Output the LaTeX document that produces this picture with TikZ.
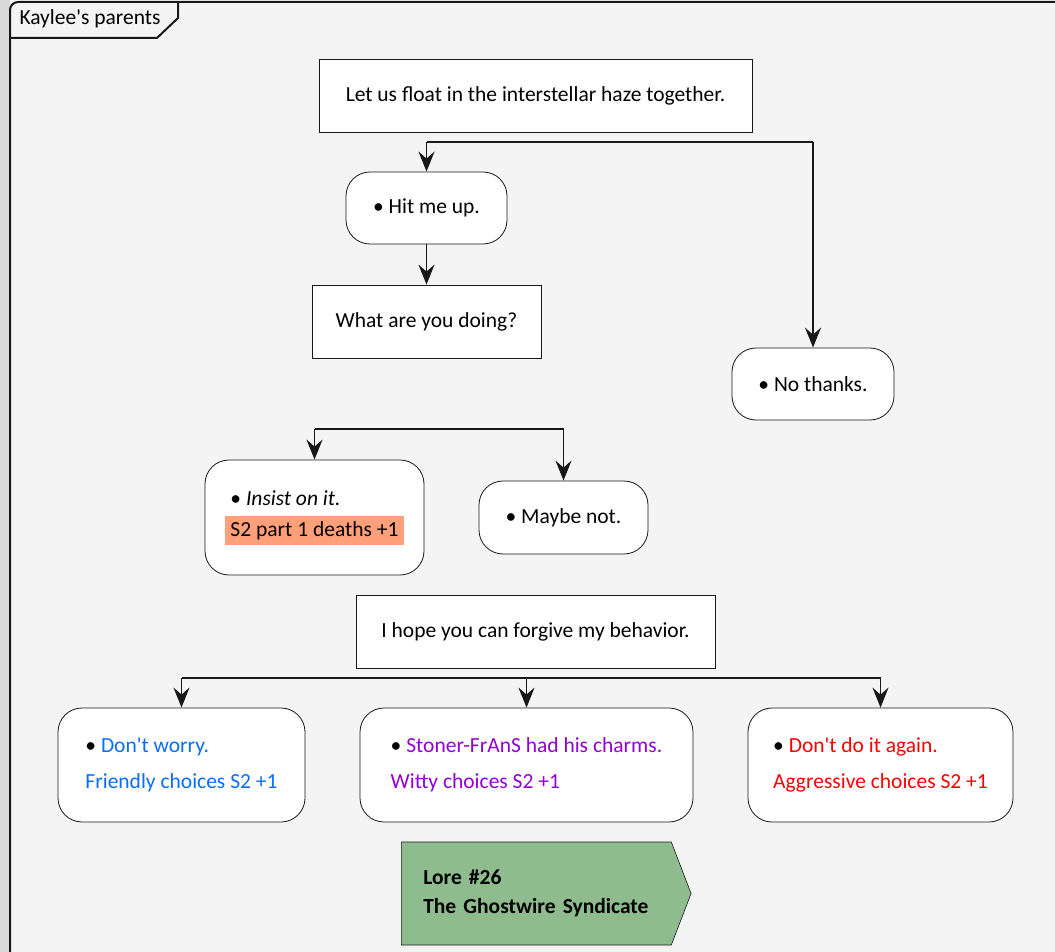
\documentclass[tikz,border=0pt]{standalone}
\usepackage{fontspec}
\setmainfont{Carlito}[Ligatures=TeXOff]
\usetikzlibrary{arrows.meta,shapes.symbols}
\definecolor{linec}{HTML}{181818}
\definecolor{bgc}{HTML}{F4F4F4}
\definecolor{deathc}{HTML}{FFA07A}
\definecolor{lorec}{HTML}{8FBC8F}
\definecolor{friendc}{HTML}{0A6EF5}
\definecolor{wittyc}{HTML}{9400D3}
\definecolor{aggrc}{HTML}{FF0000}
\tikzset{d/.style={line width=1.6pt, draw=linec}}
\tikzset{fork/.style={line width=2.5pt, draw=linec}}
\tikzset{arr/.style={d, -{Stealth[length=20pt,width=16pt,inset=7pt]}}}
\newcommand{\deathtag}[1]{{\setlength{\fboxsep}{5pt}\colorbox{deathc}{#1}}}

\begin{document}
\begin{tikzpicture}[x=1pt, y=-1pt,
box/.style={rectangle, draw=linec, fill=white, line width=0.8pt, align=center},
choice/.style={rectangle, rounded corners=24pt, draw=linec, fill=white, line width=0.8pt, align=left},
lore/.style={signal, signal to=east, signal pointer angle=138, draw=linec, fill=lorec, line width=0.6pt, align=left, text width=226pt, inner xsep=22pt, minimum height=103pt},
]
\useasboundingbox (0,0) rectangle (1055,952);
\fill[gray!30] (0,0) rectangle (10,952);
\fill[bgc] (10,2) rectangle (1055,952);
\draw[line width=2pt, draw=linec, rounded corners=8pt] (10,975) -- (10,2) -- (1075,2);
\node[inner sep=0pt] (title) at (90,19) {\fontsize{21.5}{25}\selectfont Kaylee's parents};
\draw[line width=2pt, draw=linec] (10,38) -- (157,38) -- (178,18) -- (178,2);

\begin{scope}[font=\fontsize{21.5}{26}\selectfont]
\node[box, minimum width=433pt, minimum height=73pt] (float) at (535.5,95.5) {Let us float in the interstellar haze together.};
\node[choice, minimum width=161pt, minimum height=72pt] (hit) at (426.5,208) {• Hit me up.};
\node[box, minimum width=229pt, minimum height=73pt] (doing) at (426.5,321.5) {What are you doing?};
\node[choice, minimum width=162pt, minimum height=72pt] (nothanks) at (813,384) {• No thanks.};
\node[choice, minimum width=219pt, minimum height=115pt] (insist) at (314.5,517.5) {\hspace*{5pt}• \textit{Insist on it.}\\[5pt]\deathtag{S2 part 1 deaths +1}};
\node[choice, minimum width=169pt, minimum height=73pt] (maybe) at (563.5,517.5) {• Maybe not.};
\node[box, minimum width=359pt, minimum height=73pt] (hope) at (535.5,631.5) {I hope you can forgive my behavior.};
\node[choice, minimum width=247pt, minimum height=114pt] (worry) at (181.5,765) {• \textcolor{friendc}{Don't worry.}\\[10pt]\textcolor{friendc}{Friendly choices S2 +1}};
\node[choice, minimum width=333pt, minimum height=114pt] (charms) at (526.5,765) {• \textcolor{wittyc}{Stoner-FrAnS had his charms.}\\[10pt]\textcolor{wittyc}{Witty choices S2 +1}};
\node[choice, minimum width=265pt, minimum height=114pt] (again) at (880.5,765) {• \textcolor{aggrc}{Don't do it again.}\\[10pt]\textcolor{aggrc}{Aggressive choices S2 +1}};
\node[lore, anchor=west, font=\fontsize{21.5}{29}\selectfont\bfseries] (lore26) at (401,893.5) {Lore \#26\\The Ghostwire Syndicate};
\end{scope}

\coordinate (s1l) at (hit.north |- 0,142);
\coordinate (s1r) at (nothanks.north |- 0,142);
\draw[fork] (s1l) -- (s1r);
\draw[arr] (s1l) -- (hit.north);
\draw[arr] (s1r) -- (nothanks.north);
\draw[arr] (hit) -- (doing);

\coordinate (s2l) at (insist.north |- 0,429);
\coordinate (s2r) at (maybe.north |- 0,429);
\draw[fork] (s2l) -- (s2r);
\draw[arr] (s2l) -- (insist.north);
\draw[arr] (s2r) -- (maybe.north);

\coordinate (s3l) at (worry.north |- 0,678);
\coordinate (s3m) at (charms.north |- 0,678);
\coordinate (s3r) at (again.north |- 0,678);
\draw[fork] (s3l) -- (s3r);
\draw[arr] (s3l) -- (worry.north);
\draw[arr] (s3m) -- (charms.north);
\draw[arr] (s3r) -- (again.north);
\end{tikzpicture}
\end{document}
